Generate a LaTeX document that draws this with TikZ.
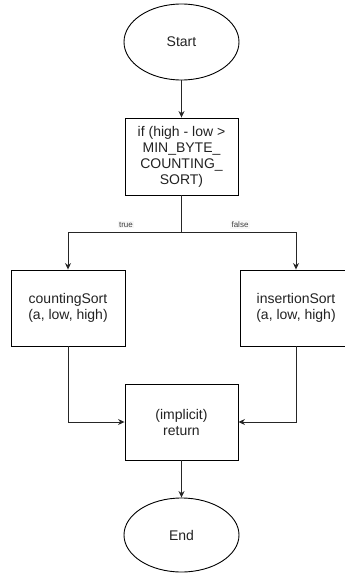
\documentclass[tikz,border=0pt]{standalone}
\usepackage{fontspec}
\setmainfont{Liberation Sans}
\usetikzlibrary{shapes.geometric,arrows.meta}
\definecolor{txt}{HTML}{222222}
\definecolor{lblbg}{HTML}{F7F7F7}
\tikzset{
  base/.style={draw=black, line width=0.9pt, text=txt, align=center,
    font=\fontsize{14}{16}\selectfont, inner sep=0pt},
  term/.style={base, ellipse, minimum width=115pt, minimum height=76pt},
  proc/.style={base, rectangle, minimum width=113pt, minimum height=77pt},
  conn/.style={draw=black!85, line width=0.9pt, -{Stealth[length=6.5pt,width=6pt]}},
  lbl/.style={fill=lblbg, text=black!75, font=\fontsize{8}{9}\selectfont, inner sep=1.2pt}
}
\begin{document}
\begin{tikzpicture}[x=1pt,y=-1pt]
\useasboundingbox (0,0) rectangle (345,573);
\clip (0,0) rectangle (345,573);
\node[term] (start) at (181.5,42) {Start};
\node[proc] (cond) at (181.5,156.5) {if (high - low >\\MIN\_BYTE\_\\COUNTING\_\\SORT)};
\node[proc, minimum width=114pt, minimum height=76pt] (cs) at (68,308) {countingSort\\(a, low, high)};
\node[proc, minimum width=112pt, minimum height=76pt] (is) at (296,308) {insertionSort\\(a, low, high)};
\node[proc, minimum height=76pt] (ret) at (181.5,422) {(implicit)\\return};
\node[term, minimum height=74pt] (endn) at (181.5,535) {End};
\coordinate (split) at (181.5,232);
\draw[conn] (start) -- (cond);
\draw[conn] (cond.south) -- (split) -| (cs.north);
\draw[conn] (split) -| (is.north);
\node[lbl] (ltrue) at (126,224.5) {true};
\node[lbl] (lfalse) at (240,224.5) {false};
\draw[conn] (cs.south) |- (ret.west);
\draw[conn] (is.south) |- (ret.east);
\draw[conn] (ret) -- (endn);
\end{tikzpicture}
\end{document}
